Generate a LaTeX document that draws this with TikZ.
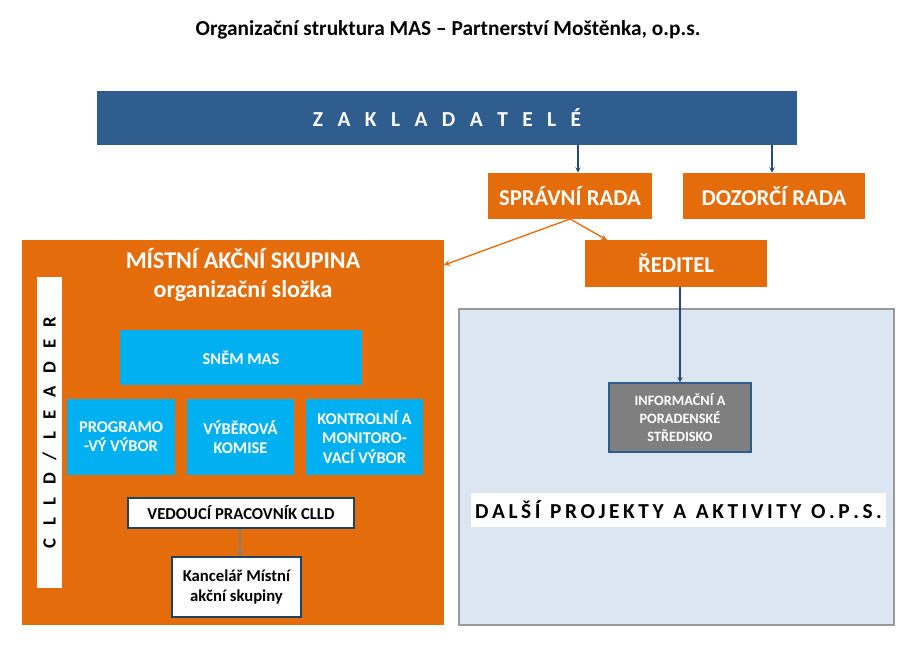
\documentclass[tikz,border=0pt]{standalone}
\usepackage{fontspec}
\setmainfont{Carlito}
\definecolor{zblue}{HTML}{2F5D8E}
\definecolor{morange}{HTML}{E46C0A}
\definecolor{mcyan}{HTML}{00B0F0}
\definecolor{lblue}{HTML}{DCE6F2}
\definecolor{dgray}{HTML}{7F7F7F}
\tikzset{
  orbox/.style={fill=morange, text=white, font=\bfseries\fontsize{17}{19}\selectfont, inner sep=0pt},
  cybox/.style={fill=mcyan, text=white, font=\bfseries\fontsize{12.3}{14.5}\selectfont, align=center, inner sep=0pt},
  whbox/.style={fill=white, draw=zblue!70!black, line width=1pt, font=\bfseries\fontsize{12.5}{15.5}\selectfont, align=center, inner sep=0pt},
  arr/.style={-stealth, draw=zblue!80!black, line width=0.8pt},
  oarr/.style={-stealth, draw=morange, line width=1pt}
}
\begin{document}
\begin{tikzpicture}[x=0.75pt, y=-0.75pt]
\useasboundingbox (0,0) rectangle (910,663);
\node[font=\bfseries\fontsize{16}{18}\selectfont] (title) at (448,30) {Organizační struktura MAS – Partnerství Moštěnka, o.p.s.};
% top level
\node[fill=zblue, text=white, font=\bfseries\fontsize{16}{18}\selectfont, minimum width=700*0.75pt, minimum height=54*0.75pt] (zakl) at (447,118) {Z\ \ \ A\ \ \ K\ \ \ L\ \ \ A\ \ \ D\ \ \ A\ \ \ T\ \ \ E\ \ \ L\ \ \ É};
\node[orbox, minimum width=164*0.75pt, minimum height=46*0.75pt] (sprava) at (570,196) {SPRÁVNÍ RADA};
\node[orbox, minimum width=182*0.75pt, minimum height=46*0.75pt] (dozor) at (774,196) {DOZORČÍ RADA};
\coordinate (z1) at (578,145);
\coordinate (z2) at (772,145);
\draw[arr] (z1) -- (z1 |- sprava.north);
\draw[arr] (z2) -- (z2 |- dozor.north);
% MAS
\node[fill=morange, minimum width=422*0.75pt, minimum height=385*0.75pt, inner sep=0pt] (mas) at (233,432.5) {};
\node[text=white, font=\bfseries\fontsize{18}{22}\selectfont, align=center] (mastitle) at (243,275) {MÍSTNÍ AKČNÍ SKUPINA\\organizační složka};
\node[orbox, minimum width=182*0.75pt, minimum height=47*0.75pt] (reditel) at (676,263.5) {ŘEDITEL};
\coordinate (sp) at (570,219);
\coordinate (masin) at (444,265);
\draw[oarr] (sp) -- (masin);
\draw[oarr] (sp) -- (607,240);
% right part
\node[fill=lblue, draw=gray!80, line width=1.5pt, minimum width=435*0.75pt, minimum height=316*0.75pt] (ops) at (676.5,467) {};
\node[fill=dgray, draw=zblue, line width=1pt, text=white, font=\bfseries\fontsize{10.7}{13.5}\selectfont, align=center, minimum width=142*0.75pt, minimum height=69*0.75pt] (info) at (680,417.5) {INFORMAČNÍ A\\PORADENSKÉ\\STŘEDISKO};
\draw[arr] (reditel.south -| info.north) -- (info.north);
\node[fill=white, font=\bfseries\fontsize{16}{18}\selectfont, minimum width=415*0.75pt, minimum height=34*0.75pt, inner sep=0pt] (dalsi) at (678.5,510) {D\,A\,L\,Š\,Í\ \ P\,R\,O\,J\,E\,K\,T\,Y\ \ A\ \ A\,K\,T\,I\,V\,I\,T\,Y\ \ O\,.\,P\,.\,S\,.};
% inside MAS
\node[fill=white, minimum width=25*0.75pt, minimum height=311*0.75pt, inner sep=0pt] (clld) at (49.5,432.5) {};
\node[rotate=90, font=\bfseries\fontsize{14}{16}\selectfont] (clldtxt) at (clld) {C\ \ \ L\ \ \ L\ \ \ D\ \ \ /\ \ \ L\ \ \ E\ \ \ A\ \ \ D\ \ \ E\ \ \ R};
\node[cybox, minimum width=242*0.75pt, minimum height=55*0.75pt] (snem) at (241,357.5) {SNĚM MAS};
\node[cybox, minimum width=108*0.75pt, minimum height=76*0.75pt] (prog) at (121,437) {PROGRAMO\\-VÝ VÝBOR};
\node[cybox, minimum width=107*0.75pt, minimum height=76*0.75pt] (vyber) at (240.5,437) {VÝBĚROVÁ\\KOMISE};
\node[cybox, minimum width=117*0.75pt, minimum height=76*0.75pt] (kontr) at (364.5,437) {KONTROLNÍ A\\MONITORO-\\VACÍ VÝBOR};
\node[whbox, minimum width=226*0.75pt, minimum height=30*0.75pt] (vedouci) at (241,513) {VEDOUCÍ PRACOVNÍK CLLD};
\node[whbox, minimum width=129*0.75pt, minimum height=60*0.75pt] (kancelar) at (236.5,587) {Kancelář Místní\\akční skupiny};
\draw[-stealth, draw=gray, line width=1pt] (vedouci.south -| 240,0) -- (kancelar.north -| 240,0);
\end{tikzpicture}
\end{document}
